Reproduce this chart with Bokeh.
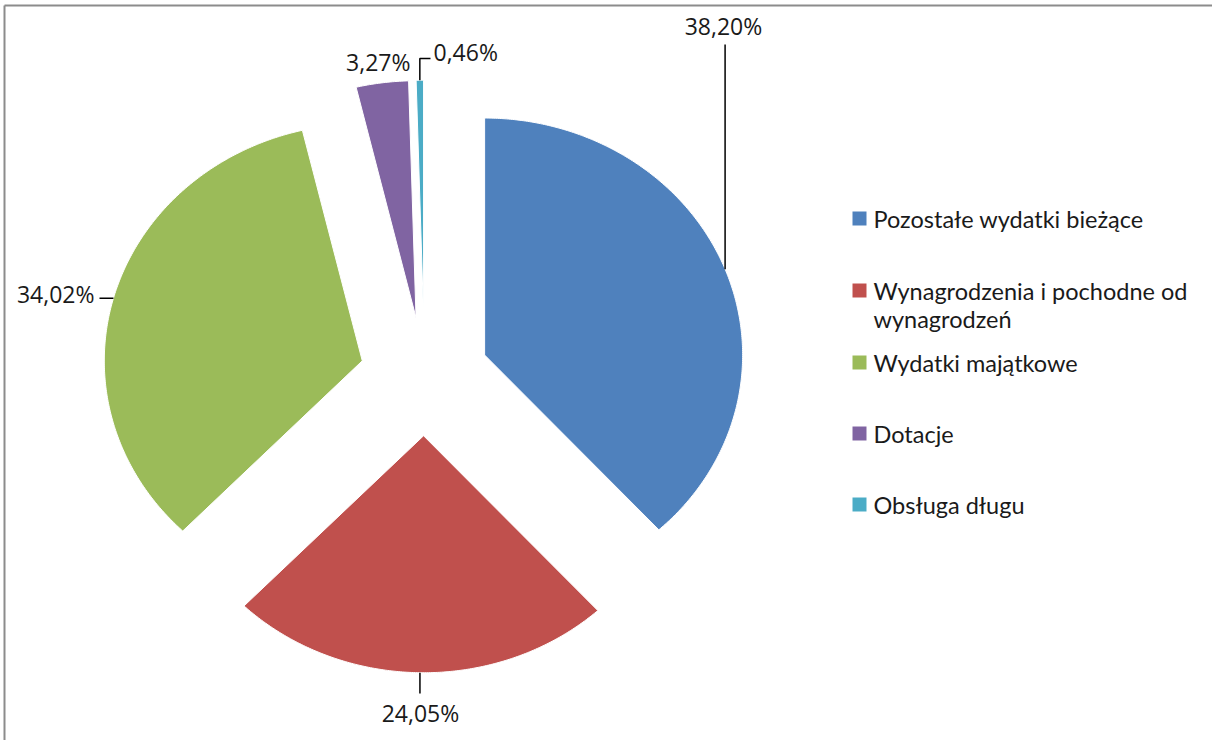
import numpy as np
from bokeh.plotting import figure
from bokeh.models import Range1d
from bokeh.embed import file_html
from bokeh.resources import INLINE
from bokeh.core.properties import value

# ---------------- data ----------------
categories = ["Pozostałe wydatki bieżące",
              "Wynagrodzenia i pochodne od wynagrodzeń",
              "Wydatki majątkowe",
              "Dotacje",
              "Obsługa długu"]
legend_lines = [["Pozostałe wydatki bieżące"],
                ["Wynagrodzenia i pochodne od", "wynagrodzeń"],
                ["Wydatki majątkowe"],
                ["Dotacje"],
                ["Obsługa długu"]]
shares = [38.20, 24.05, 34.02, 3.27, 0.46]
share_labels = ["38,20%", "24,05%", "34,02%", "3,27%", "0,46%"]
colors = ["#4F81BD", "#C0504D", "#9BBB59", "#8064A2", "#4BACC6"]

# ---------------- layout ----------------
W, H = 1212, 740
CX, CY = 424, 376          # pie centre, page pixels
RX, RY = 258, 237          # pie radius in pixels (x, y)
EXPLODE = 0.25             # explosion as fraction of radius
LABEL_FONT = value("Open Sans")
LEGEND_FONT = value("Lato")


def pt(px, py):
    """page pixel -> data coordinates"""
    return ((px - CX) / RX, (CY - py) / RY)


p = figure(width=W, height=H, output_backend="svg", toolbar_location=None,
           x_range=Range1d(-CX / RX, (W - CX) / RX),
           y_range=Range1d((CY - H) / RY, CY / RY),
           min_border=0, outline_line_color=None,
           background_fill_color="white", border_fill_color="white")
p.axis.visible = False
p.grid.visible = False

# ---------------- slices ----------------
total = sum(shares)
starts = np.cumsum([0] + shares[:-1]) / total * 2 * np.pi
ends = np.cumsum(shares) / total * 2 * np.pi
xs, ys, anchors = [], [], []
for a0, a1 in zip(starts, ends):
    mid = (a0 + a1) / 2
    ox, oy = EXPLODE * np.sin(mid), EXPLODE * np.cos(mid)
    t = np.linspace(a0, a1, max(8, int((a1 - a0) * 120)))
    xs.append(list(np.concatenate([[ox], ox + np.sin(t)])))
    ys.append(list(np.concatenate([[oy], oy + np.cos(t)])))
    anchors.append((ox + np.sin(mid), oy + np.cos(mid)))

p.patches(xs, ys, fill_color=colors, line_color="white", line_width=1)

# ---------------- leader lines & labels ----------------
lead_xs, lead_ys = [], []
ax, ay = anchors[0]                      # blue: straight up
lead_xs.append([ax, ax]); lead_ys.append([ay, pt(0, 44)[1]])
ax, ay = anchors[1]                      # red: straight down
lead_xs.append([ax, ax]); lead_ys.append([ay, pt(0, 693)[1]])
ax, ay = anchors[2]                      # green: left
lead_xs.append([ax, pt(99, 0)[0]]); lead_ys.append([ay, ay])
ax, ay = anchors[4]                      # cyan: up then right
lead_xs.append([ax, ax, pt(430, 0)[0]])
lead_ys.append([ay, pt(0, 58)[1], pt(0, 58)[1]])
p.multi_line(lead_xs, lead_ys, line_color="black", line_width=1.5)

label_pos = [pt(723, 25), pt(420, 712), pt(94, 293), pt(410, 61), pt(433, 51)]
label_align = ["center", "center", "right", "right", "left"]
for (lx, ly), txt, al in zip(label_pos, share_labels, label_align):
    p.text([lx], [ly], text=[txt], text_font=LABEL_FONT, text_font_size="23px",
           text_align=al, text_baseline="middle", text_color="#1a1a1a")

# ---------------- legend ----------------
legend_y = [218, 290, 362, 433, 504]
for yy, col, lines in zip(legend_y, colors, legend_lines):
    sx, sy = pt(859, yy)
    p.scatter([sx], [sy], marker="square", size=14, fill_color=col, line_color=None)
    for k, line in enumerate(lines):
        tx, ty = pt(873, yy + 28 * k)
        p.text([tx], [ty], text=[line], text_font=LEGEND_FONT, text_font_size="23.5px",
               text_align="left", text_baseline="middle", text_color="#1a1a1a")

# ---------------- frame (top and left edges of the chart area) ----------------
fx0, fy0 = pt(4, 5)
fx1, fy1 = pt(W + 10, H + 10)
p.multi_line([[fx0, fx0], [fx0, fx1]], [[fy0, fy1], [fy0, fy0]],
             line_color="#8c8c8c", line_width=2)

open("out.html", "w").write(file_html(p, INLINE))
